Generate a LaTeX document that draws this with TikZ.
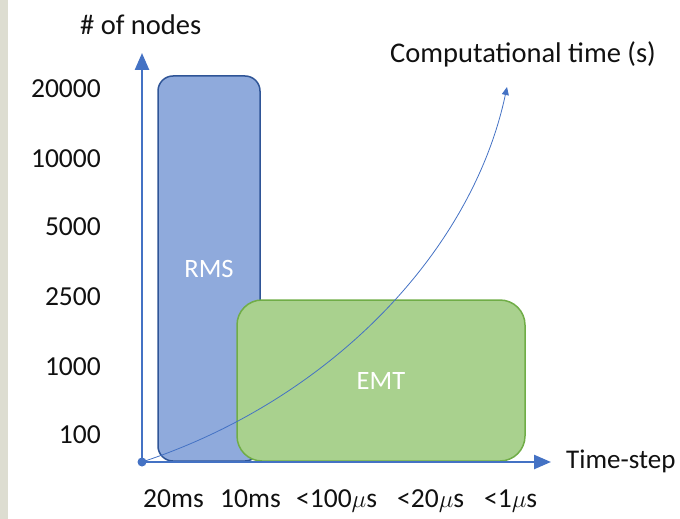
\documentclass[tikz,border=0pt]{standalone}
\usepackage{fontspec}
\setmainfont{Carlito}
\usetikzlibrary{arrows.meta}
\definecolor{axisblue}{HTML}{4472C4}
\definecolor{rmsfill}{HTML}{8FAADC}
\definecolor{rmsline}{HTML}{2F5597}
\definecolor{emtfill}{HTML}{A9D18E}
\definecolor{emtline}{HTML}{70AD47}
\definecolor{sidegray}{HTML}{DDDDD1}
\definecolor{textgray}{HTML}{111111}
\begin{document}
\begin{tikzpicture}[x=1pt,y=-1pt,
    every node/.style={font=\fontsize{27.5}{32}\selectfont,text=textgray,inner sep=0pt},
    title/.style={anchor=base west,font=\fontsize{28.5}{33}\selectfont},
    box/.style={rounded corners=#1,line width=1.5pt,text=white,font=\fontsize{26.5}{31}\selectfont},
    axis/.style={axisblue,line width=2.5pt,-{Triangle[width=14pt,length=17pt]}}]
  \useasboundingbox (0,0) rectangle (680,519);
  \fill[sidegray] (0,0) rectangle (8,519);
  \node[box=15pt,draw=rmsline,fill=rmsfill,minimum width=102pt,minimum height=385pt] (rms) at (209,268.5) {RMS};
  \node[box=25pt,draw=emtline,fill=emtfill,minimum width=288pt,minimum height=161pt] (emt) at (381,380.5) {EMT};
  \coordinate (o) at (142,462);
  \coordinate (ytip) at (142,53);
  \coordinate (xtip) at (551,462);
  \coordinate (ctip) at (507,87);
  \draw[axisblue,line width=0.8pt,-{Triangle[width=7pt,length=8pt]}]
    (o) .. controls (330,400) and (472,252) .. (ctip);
  \draw[axis] (o) -- (ytip);
  \draw[axis] (o) -- (xtip);
  \fill[axisblue] (o) circle (4.5pt);
  \path
    (80,35) node[title] (ytitle){\# of nodes}
    (390,63) node[title] (ctitle){Computational time (s)}
    (566,468) node[title,font=\fontsize{27}{32}\selectfont] (xtitle){Time-step};
  \path
    (101,97) node[anchor=base east] (n20000){20000}
    (101,167) node[anchor=base east] (n10000){10000}
    (101,235) node[anchor=base east] (n5000){5000}
    (101,305) node[anchor=base east] (n2500){2500}
    (101,375) node[anchor=base east] (n1000){1000}
    (101,443) node[anchor=base east] (n100){100};
  \path
    (143,507) node[anchor=base west] (t20ms){20ms}
    (220,507) node[anchor=base west] (t10ms){10ms}
    (296,507) node[anchor=base west] (t100us){<100$\mu$s}
    (397,507) node[anchor=base west] (t20us){<20$\mu$s}
    (484,507) node[anchor=base west] (t1us){<1$\mu$s};
\end{tikzpicture}
\end{document}
